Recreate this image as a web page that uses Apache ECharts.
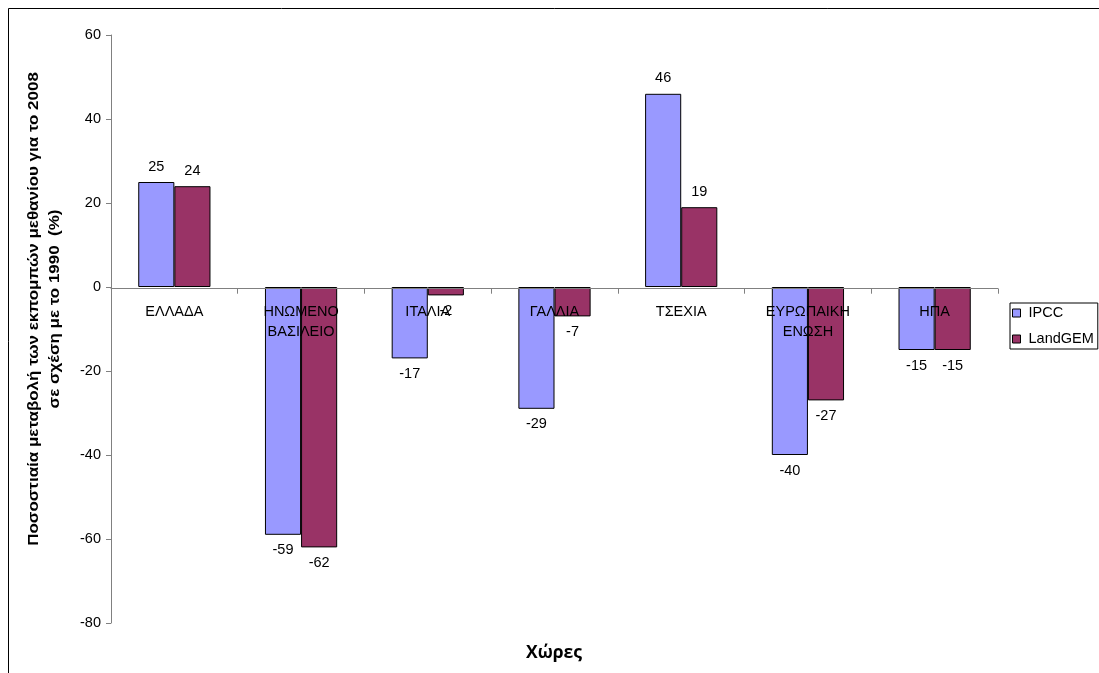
<!DOCTYPE html>
<html>
<head>
<meta charset="utf-8">
<script src="https://cdn.jsdelivr.net/npm/echarts@6/dist/echarts.min.js"></script>
<style>
  html, body { margin: 0; padding: 0; background: #fff; }
  #chart { width: 1099px; height: 673px; }
</style>
</head>
<body>
<div id="chart"></div>
<script>
// Percentage change of methane emissions, 2008 vs 1990
const countries = ['ΕΛΛΑΔΑ', 'ΗΝΩΜΕΝΟ\nΒΑΣΙΛΕΙΟ', 'ΙΤΑΛΙΑ', 'ΓΑΛΛΙΑ', 'ΤΣΕΧΙΑ', 'ΕΥΡΩΠΑΙΚΗ\nΕΝΩΣΗ', 'ΗΠΑ'];
const ipcc = [25, -59, -17, -29, 46, -40, -15];
const landgem = [24, -62, -2, -7, 19, -27, -15];
const seriesNames = ['IPCC', 'LandGEM'];
const yAxisTitle = 'Ποσοστιαία μεταβολή των εκπομπών μεθανίου για το 2008\nσε σχέση με το 1990  (%)';
const xAxisTitle = 'Χώρες';
const yMin = -80, yMax = 60, yStep = 20;

const FONT = '"Liberation Sans", Arial, sans-serif';

const chart = echarts.init(document.getElementById('chart'), null, { renderer: 'canvas' });

const barLabel = {
  show: true,
  position: 'outside',
  distance: 8,
  color: '#000',
  fontFamily: FONT,
  fontSize: 14.5
};

chart.setOption({
  animation: false,
  backgroundColor: '#fff',
  grid: { left: 111, right: 101, top: 35, bottom: 50, containLabel: false },
  legend: {
    orient: 'vertical',
    left: 1010,
    top: 303,
    itemWidth: 8,
    itemHeight: 8,
    itemGap: 10,
    padding: [2, 4, 2, 2],
    icon: 'rect',
    borderColor: '#000',
    borderWidth: 1,
    itemStyle: { borderColor: '#000', borderWidth: 1 },
    textStyle: { fontFamily: FONT, fontSize: 14.5, lineHeight: 16, color: '#000', padding: [0, 0, 0, 3] },
    data: seriesNames
  },
  xAxis: {
    type: 'category',
    data: countries,
    z: 5,
    axisLine: { onZero: false, lineStyle: { color: '#808080', width: 1 } },
    axisTick: { show: true, alignWithLabel: false, length: 5, lineStyle: { color: '#808080' } },
    axisLabel: {
      interval: 0,
      margin: 13,
      color: '#000',
      fontFamily: FONT,
      fontSize: 14.5,
      lineHeight: 20
    },
    splitLine: { show: false }
  },
  yAxis: {
    type: 'value',
    min: yMin,
    max: yMax,
    interval: yStep,
    axisLine: { show: true, lineStyle: { color: '#808080', width: 1 } },
    axisTick: { show: true, length: 5, lineStyle: { color: '#808080' } },
    axisLabel: { color: '#000', fontFamily: FONT, fontSize: 14.5, margin: 10 },
    splitLine: { show: false }
  },
  graphic: [
    {
      type: 'rect',
      silent: true,
      shape: { x: 8.5, y: 8.5, width: 1200, height: 1200 },
      style: { fill: 'none', stroke: '#000', lineWidth: 1 }
    },
    {
      // value-axis title, widened along its reading direction
      type: 'text',
      silent: true,
      x: 44.5,
      y: 309,
      rotation: Math.PI / 2,
      scaleX: 1.17,
      style: {
        text: yAxisTitle,
        align: 'center',
        verticalAlign: 'middle',
        fontFamily: FONT,
        fontWeight: 'bold',
        fontSize: 14.5,
        lineHeight: 21,
        fill: '#000'
      }
    },
    {
      type: 'text',
      silent: true,
      x: 554,
      y: 653,
      style: {
        text: xAxisTitle,
        align: 'center',
        verticalAlign: 'middle',
        fontFamily: '"Open Sans", "DejaVu Sans", sans-serif',
        fontWeight: 'bold',
        fontSize: 17.5,
        fill: '#000'
      }
    }
  ],
  series: [
    {
      name: seriesNames[0],
      type: 'bar',
      data: ipcc,
      barGap: '0%',
      barCategoryGap: '43%',
      itemStyle: { color: '#9999FF', borderColor: '#000', borderWidth: 1 },
      label: barLabel
    },
    {
      name: seriesNames[1],
      type: 'bar',
      data: landgem,
      itemStyle: { color: '#993366', borderColor: '#000', borderWidth: 1 },
      label: barLabel
    }
  ]
});

// Lift the category axis (line, ticks and labels) up to the zero line.
const zeroY = chart.convertToPixel({ yAxisIndex: 0 }, 0);
const bottomY = chart.convertToPixel({ yAxisIndex: 0 }, yMin);
chart.setOption({ xAxis: { offset: zeroY - bottomY } });
</script>
</body>
</html>
